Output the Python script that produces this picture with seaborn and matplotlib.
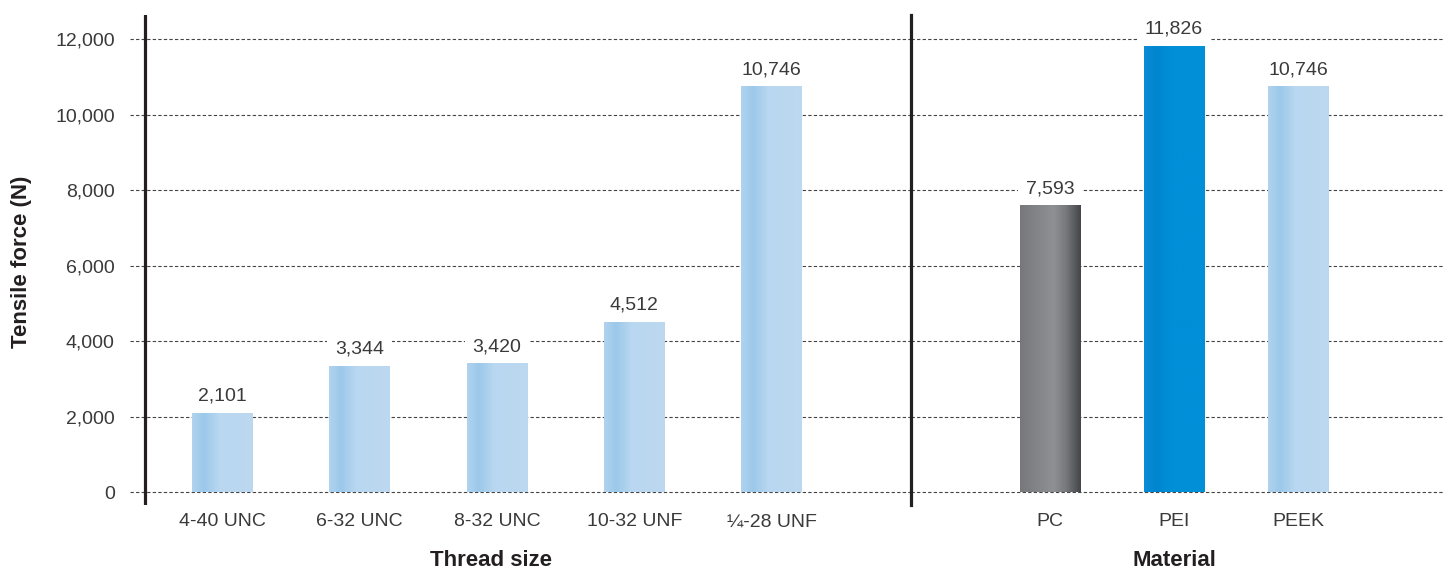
import numpy as np
import pandas as pd
import matplotlib
matplotlib.use("Agg")
import matplotlib.pyplot as plt
from matplotlib.colors import LinearSegmentedColormap
import seaborn as sns

# Tensile force by thread size and by material
thread_sizes = ["4-40 UNC", "6-32 UNC", "8-32 UNC", "10-32 UNF", "¼-28 UNF"]
thread_force = [2101, 3344, 3420, 4512, 10746]

materials = ["PC", "PEI", "PEEK"]
material_force = [7593, 11826, 10746]

y_ticks = [0, 2000, 4000, 6000, 8000, 10000, 12000]

# horizontal shading for each bar family
light_blue = [(0.0, "#b0d3ef"), (0.2, "#9cc8ea"), (0.45, "#b9d7f0"), (1.0, "#bdd8f1")]
mid_blue = [(0.0, "#0b8dd6"), (0.2, "#0085cf"), (0.45, "#0090d8"), (1.0, "#0090d8")]
steel = [(0.0, "#76787c"), (0.55, "#8e9094"), (0.75, "#797a7e"), (1.0, "#444548")]

sns.set_theme(style="white")
plt.rcParams["font.family"] = ["Liberation Sans", "DejaVu Sans"]

TEXT = "#3a3a3a"
AXIS = "#231f20"
W, H = 1443, 572
fig = plt.figure(figsize=(W / 100, H / 100), dpi=100)

top, bottom = 15, 505
ax_l = fig.add_axes([130 / W, (H - bottom) / H, (911 - 130) / W, (bottom - top) / H])
ax_r = fig.add_axes([911 / W, (H - bottom) / H, (W - 911) / W, (bottom - top) / H])

df_t = pd.DataFrame({"size": thread_sizes, "force": thread_force})
df_m = pd.DataFrame({"material": materials, "force": material_force})

sns.barplot(data=df_t, x="size", y="force", ax=ax_l, width=0.444,
            color="#bdd8f1", saturation=1, linewidth=0)
sns.barplot(data=df_m, x="material", y="force", hue="material", ax=ax_r,
            width=0.49, palette=["#8e9094", "#0090d8", "#bdd8f1"],
            saturation=1, linewidth=0, legend=False)

ymin, ymax = -344, 12636


def shade(ax, patch, stops):
    cmap = LinearSegmentedColormap.from_list("bar", stops)
    x0, y0 = patch.get_x(), patch.get_y()
    w, h = patch.get_width(), patch.get_height()
    grad = np.linspace(0, 1, 256)[np.newaxis, :]
    im = ax.imshow(grad, cmap=cmap, extent=[x0, x0 + w, y0, y0 + h],
                   aspect="auto", zorder=patch.get_zorder() + 0.1,
                   interpolation="bicubic")
    im.set_clip_path(patch)


for p in ax_l.patches:
    shade(ax_l, p, light_blue)
for p, stops in zip(ax_r.patches, [steel, mid_blue, light_blue]):
    shade(ax_r, p, stops)

ax_l.set_xlim(-0.673, 5.015)
ax_r.set_xlim(-1.121, 3.169)

for ax in (ax_l, ax_r):
    ax.set_ylim(ymin, ymax)
    ax.set_yticks(y_ticks)
    ax.yaxis.grid(True, linestyle=(0, (3, 2)), color="#444444", linewidth=0.8)
    ax.xaxis.grid(False)
    ax.set_axisbelow(True)
    ax.set_xlabel("")
    ax.set_ylabel("")
    ax.tick_params(axis="both", length=0, labelsize=14, labelcolor=TEXT)
    ax.tick_params(axis="x", pad=6)
    for s in ax.spines.values():
        s.set_visible(False)
    ax.patch.set_alpha(0)

ax_l.set_yticklabels([f"{v:,}" for v in y_ticks])
ax_l.tick_params(axis="y", pad=11)
ax_r.tick_params(axis="y", labelleft=False)

# vertical rules
ax_l.axvline(-0.564, color=AXIS, linewidth=2.3, zorder=5)
ax_r.spines["left"].set_visible(True)
ax_r.spines["left"].set_color(AXIS)
ax_r.spines["left"].set_linewidth(2.3)

# value labels
for ax, vals in ((ax_l, thread_force), (ax_r, material_force)):
    for i, v in enumerate(vals):
        ax.annotate(f"{v:,}", xy=(i, v), xytext=(0, 8.5), textcoords="offset points",
                    ha="center", va="baseline", fontsize=14, color=TEXT, zorder=6,
                    bbox=dict(boxstyle="square,pad=0.4", fc="white", ec="none"))

fig.text(491 / W, (H - 561) / H, "Thread size", ha="center", va="center",
         fontsize=16, fontweight="bold", color=AXIS)
fig.text(1174 / W, (H - 561) / H, "Material", ha="center", va="center",
         fontsize=16, fontweight="bold", color=AXIS)
fig.text(22 / W, (H - 262) / H, "Tensile force (N)", ha="center", va="center",
         rotation=90, fontsize=16, fontweight="bold", color=AXIS)

fig.savefig("out.png", dpi=100, facecolor="white")
